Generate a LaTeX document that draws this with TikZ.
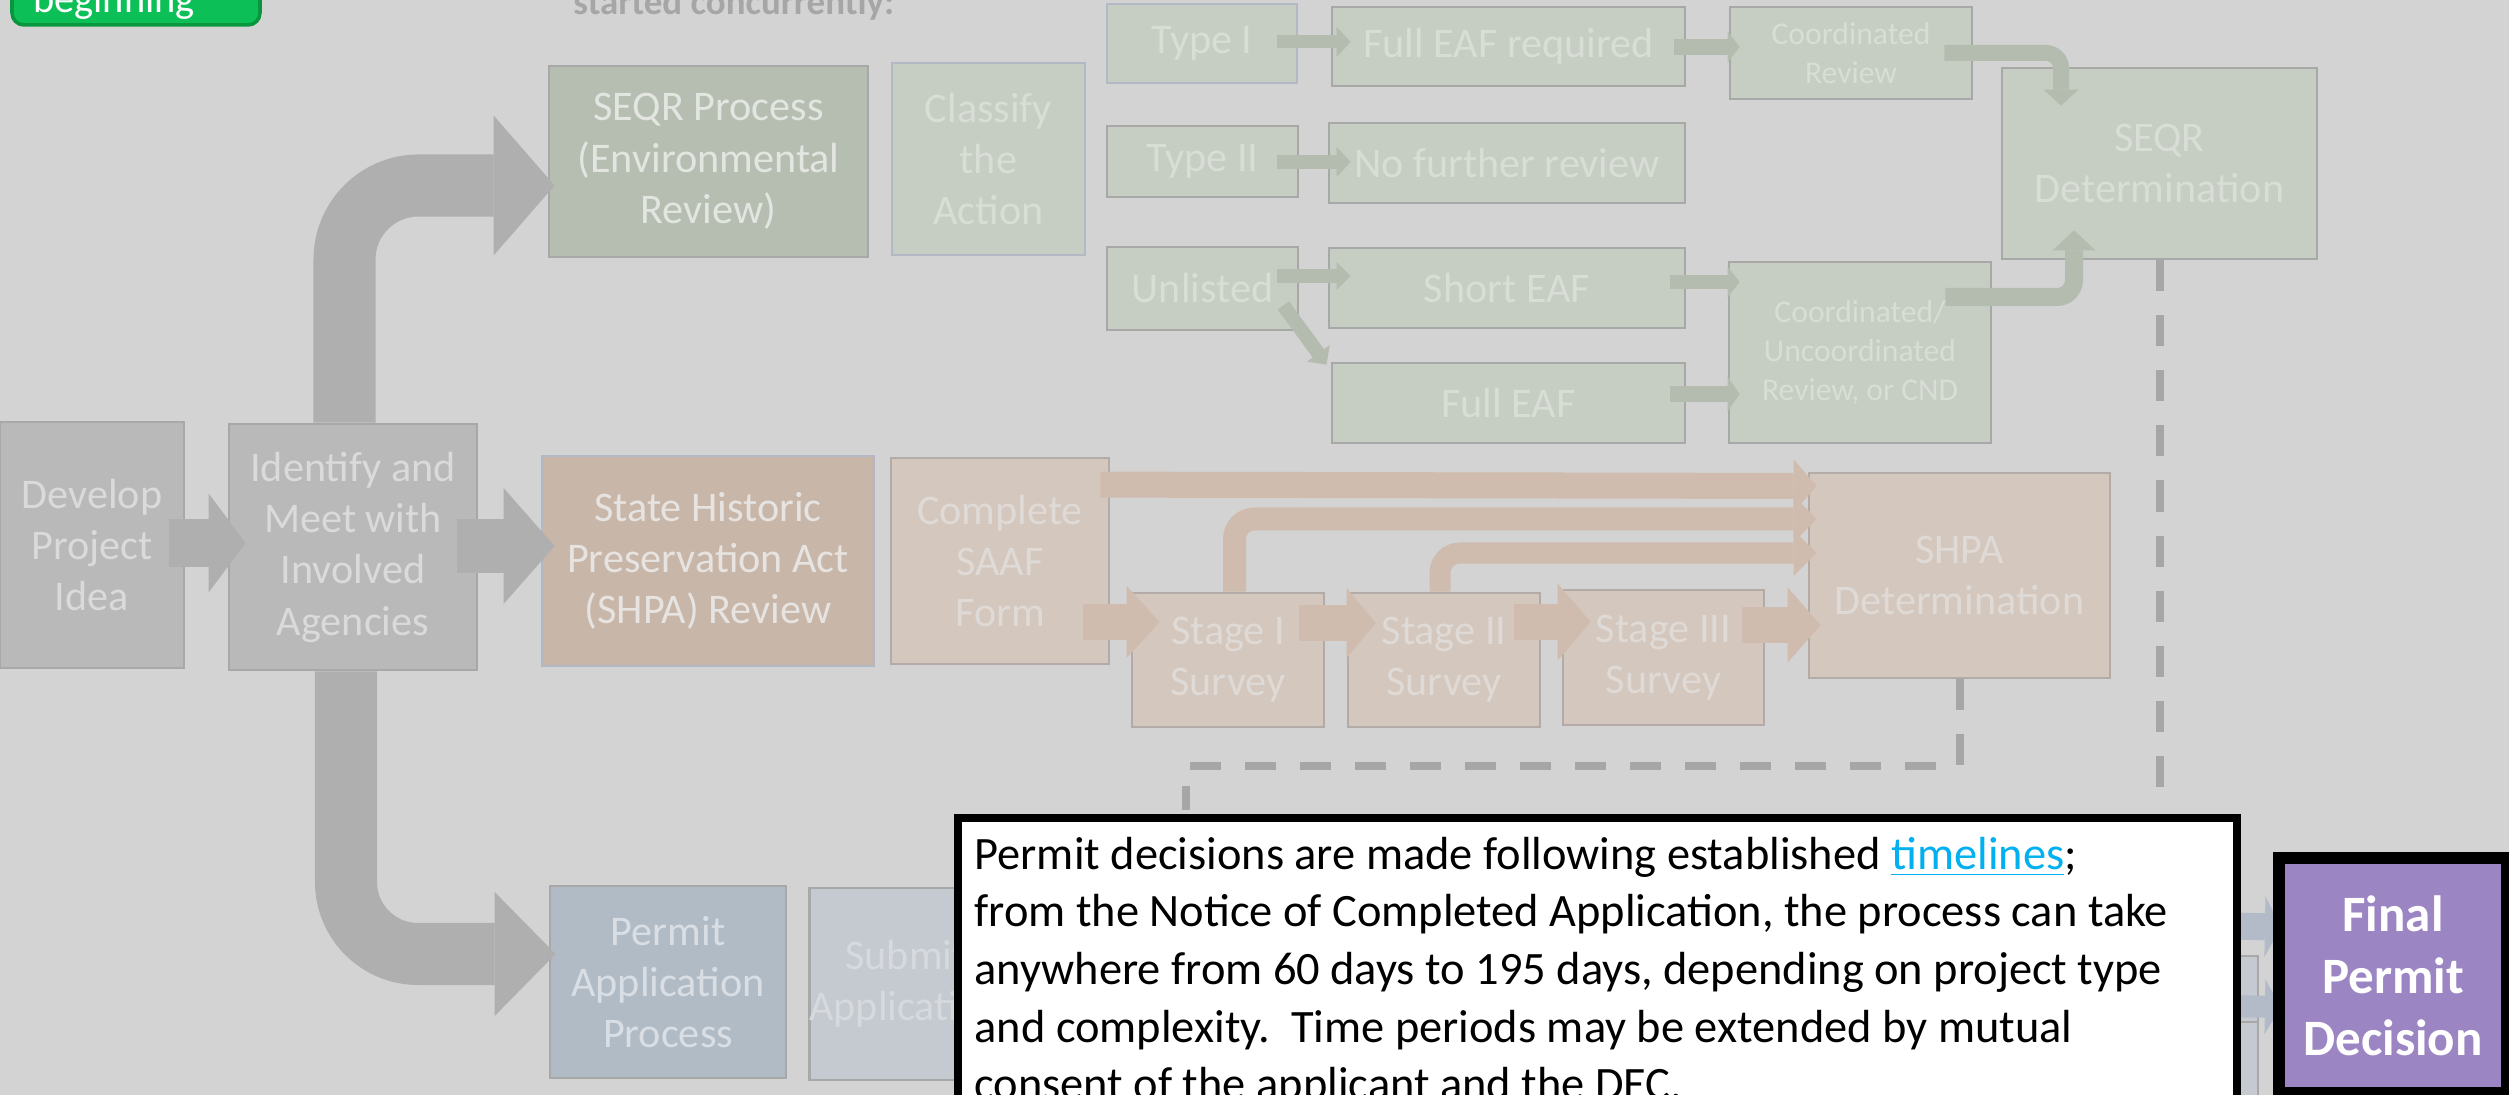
\documentclass[tikz,border=0pt]{standalone}
\usepackage{fontspec}
\setmainfont{Carlito}
\usetikzlibrary{arrows.meta, calc}

\definecolor{bggray}{HTML}{D3D3D3}
\definecolor{graybg}{HTML}{B9B9B9}
\definecolor{grayline}{HTML}{A8A8A8}
\definecolor{graytxt}{HTML}{DADADA}
\definecolor{arrowgray}{HTML}{AFAFAF}
\definecolor{seqrbg}{HTML}{B6BEB2}
\definecolor{seqrtxt}{HTML}{E2E5E0}
\definecolor{greenbg}{HTML}{C6CEC3}
\definecolor{greentxt}{HTML}{D8DDD5}
\definecolor{blueline}{HTML}{B2B9C4}
\definecolor{greenarrow}{HTML}{B4BCB0}
\definecolor{shpabg}{HTML}{C8B6A9}
\definecolor{shpatxt}{HTML}{E6E3E0}
\definecolor{peachbg}{HTML}{D4C7BE}
\definecolor{peachline}{HTML}{B2ABA7}
\definecolor{peachtxt}{HTML}{DFDAD6}
\definecolor{peacharrow}{HTML}{CFBCAE}
\definecolor{permitbg}{HTML}{B1BBC6}
\definecolor{permittxt}{HTML}{D9DEE4}
\definecolor{submitbg}{HTML}{C5CAD1}
\definecolor{submittxt}{HTML}{D6D9DD}
\definecolor{bluearrow}{HTML}{B3BBC8}
\definecolor{finalpurple}{HTML}{9B85C3}
\definecolor{linkblue}{HTML}{00B0F0}
\definecolor{dashgray}{HTML}{A6A6A6}
\definecolor{btngreen}{HTML}{0CBF57}
\definecolor{btnedge}{HTML}{08963F}

\begin{document}
\begin{tikzpicture}[
    x=0.01cm, y=-0.01cm,
    box/.style={draw, line width=0.75pt, align=center, inner sep=0pt, font=\fontsize{12}{14.6}\selectfont},
    graybox/.style={box, fill=graybg, draw=grayline, text=graytxt},
    seqrbox/.style={box, fill=seqrbg, draw=grayline, text=seqrtxt},
    greenbox/.style={box, fill=greenbg, draw=grayline, text=greentxt},
    smallbox/.style={greenbox, font=\fontsize{9}{11}\selectfont},
    shpabox/.style={box, fill=shpabg, draw=blueline, text=shpatxt},
    peachbox/.style={box, fill=peachbg, draw=peachline, text=peachtxt},
    permitbox/.style={box, fill=permitbg, draw=grayline, text=permittxt},
    submitbox/.style={box, fill=submitbg, draw=grayline, text=submittxt},
    finalbox/.style={draw=black, line width=2.3pt, fill=finalpurple, text=white, align=center, inner sep=0pt, font=\bfseries\fontsize{14.5}{17.6}\selectfont},
    callout/.style={draw=black, line width=2.3pt, fill=white, align=flush left, inner xsep=0.165cm, inner ysep=0.19cm, text width=12.45cm, font=\fontsize{13.2}{16.4}\selectfont},
    fatarrow/.style n args={4}{draw=#1, line width=#2, -{Triangle[length=#3, width=#4, line width=0pt]}},
    dashline/.style={draw=dashgray, line width=0.08cm, dash pattern=on 0.31cm off 0.24cm}
]
    \useasboundingbox[fill=bggray] (0,0) rectangle (2509,1095);

    % start button and heading
    \draw[fill=btngreen, draw=btnedge, line width=1pt, rounded corners=0.12cm] (12,-40) rectangle (260,25);
    \node[anchor=base, text=white, font=\fontsize{11.5}{14}\selectfont] (beginning) at (114,13) {beginning};
    \node[anchor=base west, text=dashgray, font=\bfseries\fontsize{10.5}{13}\selectfont] (concurrent) at (561,15) {started concurrently:};

    % left column
    \node[graybox, minimum width=1.84cm, minimum height=2.46cm] (develop) at (92,545) {Develop\\Project\\Idea};
    \node[graybox, minimum width=2.48cm, minimum height=2.46cm] (identify) at (353,547) {Identify and\\Meet with\\Involved\\Agencies};

    % SEQR row
    \node[seqrbox, minimum width=3.19cm, minimum height=1.91cm] (seqrproc) at (708.5,161.5) {SEQR Process\\(Environmental\\Review)};
    \node[greenbox, draw=blueline, minimum width=1.93cm, minimum height=1.92cm] (classify) at (988.5,159) {Classify\\the\\Action};
    \node[greenbox, draw=blueline, minimum width=1.90cm, minimum height=0.79cm] (typeone) at (1202,43.5) {Type I};
    \node[greenbox, minimum width=3.53cm, minimum height=0.79cm] (fulleafreq) at (1508.5,46.5) {Full EAF required};
    \node[smallbox, minimum width=2.42cm, minimum height=0.92cm] (coordrev) at (1851,53) {Coordinated\\Review};
    \node[greenbox, minimum width=1.91cm, minimum height=0.71cm] (typetwo) at (1202.5,161.5) {Type II};
    \node[greenbox, minimum width=3.56cm, minimum height=0.80cm] (nofurther) at (1507,163) {No further review};
    \node[greenbox, minimum width=1.91cm, minimum height=0.83cm] (unlisted) at (1202.5,288.5) {Unlisted};
    \node[greenbox, minimum width=3.56cm, minimum height=0.80cm] (shorteaf) at (1507,288) {Short EAF};
    \node[greenbox, minimum width=3.53cm, minimum height=0.80cm] (fulleaf) at (1508.5,403) {Full EAF};
    \node[smallbox, minimum width=2.62cm, minimum height=1.81cm] (coordunc) at (1860,352.5) {Coordinated/\\Uncoordinated\\Review, or CND};
    \node[greenbox, minimum width=3.15cm, minimum height=1.91cm] (seqrdet) at (2159.5,163.5) {SEQR\\Determination};

    % SHPA row
    \node[shpabox, minimum width=3.32cm, minimum height=2.10cm] (shpareview) at (708,561) {State Historic\\Preservation Act\\(SHPA) Review};
    \node[peachbox, minimum width=2.18cm, minimum height=2.06cm] (saaf) at (1000,561) {Complete\\SAAF\\Form};
    \node[peachbox, minimum width=1.92cm, minimum height=1.34cm] (stageone) at (1228,660) {Stage I\\Survey};
    \node[peachbox, minimum width=1.92cm, minimum height=1.34cm] (stagetwo) at (1444,660) {Stage II\\Survey};
    \node[peachbox, minimum width=2.01cm, minimum height=1.35cm] (stagethree) at (1663.5,657.5) {Stage III\\Survey};
    \node[peachbox, minimum width=3.01cm, minimum height=2.05cm] (shpadet) at (1959.5,575.5) {SHPA\\Determination};

    % permit row
    \node[permitbox, minimum width=2.36cm, minimum height=1.92cm] (permitapp) at (668,982) {Permit\\Application\\Process};
    \node[submitbox, minimum width=1.88cm, minimum height=1.92cm] (submit) at (906,984) {Submit\\Application};
    \node[submitbox, minimum width=1.08cm, minimum height=1.74cm] (permitrowa) at (2204,1043) {};
    \node[submitbox, minimum width=1.08cm, minimum height=1.08cm] (permitrowb) at (2204,1076) {};

    % big gray arrows
    \draw[fatarrow={arrowgray}{0.48cm}{0.37cm}{0.99cm}] ($(develop.east)+(-16,-2)$) -- ($(develop.east -| identify.west)+(18,-2)$);
    \draw[fatarrow={arrowgray}{0.54cm}{0.51cm}{1.16cm}] ($(identify.east)+(-21,-1)$) -- ($(identify.east -| shpareview.west)+(14,-1)$);
    \draw[fatarrow={arrowgray}{0.62cm}{0.61cm}{1.40cm}, rounded corners=0.74cm] ($(identify.north)+(-8.5,0)$) |- ($(seqrproc.west)+(7,24)$);
    \draw[fatarrow={arrowgray}{0.62cm}{0.61cm}{1.24cm}, rounded corners=0.72cm] ($(identify.south)+(-7,0)$) |- ($(permitapp.west)+(7,-28)$);

    % SEQR arrows
    \draw[fatarrow={greenarrow}{0.13cm}{0.14cm}{0.30cm}] ($(typeone.east)+(-21,-1.5)$) -- ($(fulleafreq.west)+(20,-4.5)$);
    \draw[fatarrow={greenarrow}{0.16cm}{0.12cm}{0.31cm}] ($(fulleafreq.east)+(-12,0.5)$) -- ($(coordrev.west)+(11,-6)$);
    \draw[fatarrow={greenarrow}{0.14cm}{0.14cm}{0.30cm}] ($(typetwo.east)+(-22,0.5)$) -- ($(nofurther.west)+(23,-1)$);
    \draw[fatarrow={greenarrow}{0.14cm}{0.14cm}{0.28cm}] ($(unlisted.east)+(-22,-12.5)$) -- ($(shorteaf.west)+(23,-12)$);
    \draw[fatarrow={greenarrow}{0.14cm}{0.14cm}{0.28cm}] ($(unlisted.east)+(-16,17)$) -- ($(fulleaf.north west)+(-4,3)$);
    \draw[fatarrow={greenarrow}{0.14cm}{0.12cm}{0.31cm}] ($(shorteaf.east)+(-16,-6)$) -- ($(coordunc.west)+(12,-70.5)$);
    \draw[fatarrow={greenarrow}{0.16cm}{0.12cm}{0.35cm}] ($(fulleaf.east)+(-16,-9)$) -- ($(coordunc.west)+(12,41.5)$);
    \draw[fatarrow={greenarrow}{0.16cm}{0.16cm}{0.35cm}, rounded corners=0.15cm] ($(coordrev.east)+(-29,0)$) -| ($(seqrdet.north)+(-98.5,39)$);
    \draw[fatarrow={greenarrow}{0.18cm}{0.20cm}{0.43cm}, rounded corners=0.17cm] ($(coordunc.east)+(-47,-55.5)$) -| ($(seqrdet.south)+(-85.5,-30)$);

    % SHPA arrows
    \draw[fatarrow={peacharrow}{0.26cm}{0.23cm}{0.53cm}] ($(saaf.north east)+(-10,28)$) -- ($(shpadet.west)+(9,-89.5)$);
    \draw[fatarrow={peacharrow}{0.23cm}{0.23cm}{0.47cm}, rounded corners=0.2cm] ($(stageone.north)+(6.5,0)$) |- ($(shpadet.west)+(9,-56.5)$);
    \draw[fatarrow={peacharrow}{0.21cm}{0.23cm}{0.46cm}, rounded corners=0.2cm] ($(stagetwo.north)+(-4,0)$) |- ($(shpadet.west)+(9,-22.5)$);
    \draw[fatarrow={peacharrow}{0.36cm}{0.33cm}{0.72cm}] ($(saaf.east)+(-27,61)$) -- ($(stageone.west)+(29,-38)$);
    \draw[fatarrow={peacharrow}{0.36cm}{0.29cm}{0.70cm}] ($(stageone.east)+(-26,-37)$) -- ($(stagetwo.west)+(29,-37)$);
    \draw[fatarrow={peacharrow}{0.36cm}{0.33cm}{0.77cm}] ($(stagetwo.east)+(-27,-38)$) -- ($(stagethree.west)+(29,-35.5)$);
    \draw[fatarrow={peacharrow}{0.36cm}{0.33cm}{0.75cm}] ($(stagethree.east)+(-23,-32.5)$) -- ($(shpadet.west)+(13,49.5)$);

    % decision box, arrows end on its border
    \node[finalbox, minimum width=2.24cm, minimum height=2.31cm] (finaldec) at (2393,975.5) {Final\\Permit\\Decision};
    \draw[fatarrow={bluearrow}{0.27cm}{0.16cm}{0.61cm}] ($(permitrowa.north)+(-4,-29)$) -- ($(finaldec.west)+(4,-48.5)$);
    \draw[fatarrow={bluearrow}{0.22cm}{0.16cm}{0.55cm}] ($(permitrowa.north)+(-4,51)$) -- ($(finaldec.west)+(4,31.5)$);
    \draw[black, line width=2.3pt] (finaldec.north west) rectangle (finaldec.south east);

    % note box
    \node[callout, anchor=north west] (callout) at (954,814) {Permit decisions are made following established \textcolor{linkblue}{\underline{timelines}};\\
        from the Notice of Completed Application, the process can take\\
        anywhere from 60 days to 195 days, depending on project type\\
        and complexity.\ \ Time periods may be extended by mutual\\
        consent of the applicant and the DEC.};

    % dashed links
    \coordinate (shpabend) at (1186,766);
    \draw[dashline] (shpadet.south) |- (shpabend) -- ($(shpabend |- callout.north)+(0,-4)$);
    \draw[dashline] (seqrdet.south) -- ($(seqrdet.south |- callout.north)+(0,-4)$);
\end{tikzpicture}
\end{document}
